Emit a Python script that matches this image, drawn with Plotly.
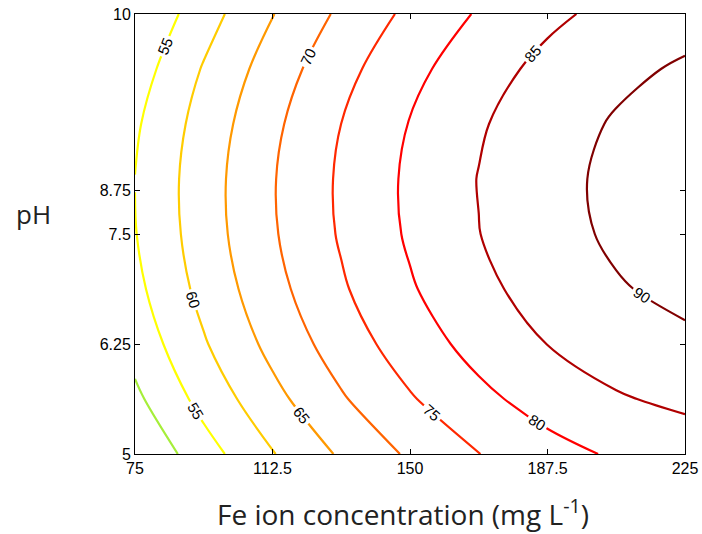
import plotly.graph_objects as go

# Fe ion concentration grid (mg/L)
fe_conc = [75, 93.75, 112.5, 131.25, 150, 168.75, 187.5, 206.25, 225]
# pH grid
ph_vals = [5, 5.625, 6.25, 6.875, 7.5, 8.125, 8.75, 9.375, 10]
# response values (rows = pH, cols = Fe)
removal = [
    [45.20, 52.91, 59.73, 65.68, 70.74, 74.92, 78.22, 80.64, 82.18],
    [48.95, 56.68, 63.52, 69.49, 74.57, 78.77, 82.09, 84.53, 86.08],
    [51.81, 59.55, 66.42, 72.40, 77.50, 81.72, 85.06, 87.51, 89.09],
    [53.76, 61.52, 68.40, 74.41, 79.52, 83.76, 87.12, 89.60, 91.19],
    [54.81, 62.59, 69.49, 75.51, 80.65, 84.91, 88.28, 90.78, 92.39],
    [55.06, 62.76, 69.68, 75.72, 80.87, 85.15, 88.54, 91.06, 92.69],
    [54.31, 62.03, 68.97, 75.02, 80.20, 84.49, 87.91, 90.44, 92.09],
    [52.55, 60.39, 67.35, 73.43, 78.62, 82.93, 86.36, 88.92, 90.58],
    [50.00, 57.86, 64.83, 70.93, 76.14, 80.47, 83.92, 86.49, 88.18],
]

levels = [50, 55, 60, 65, 70, 75, 80, 85, 90]
level_colors = ["#a6ee3a", "#ffff00", "#ffcc00", "#ff9900", "#ff6400",
                "#ff2800", "#ff0000", "#b00000", "#800000"]

x_ticks = [75, 112.5, 150, 187.5, 225]
x_ticktext = ["75", "112.5", "150", "187.5", "225"]
y_ticks = [5, 6.25, 7.5, 8.0, 10]
y_ticktext = ["5", "6.25", "7.5", "8.75", "10"]

lo, hi = levels[0], levels[-1]
colorscale = [[(lv - lo) / (hi - lo), c] for lv, c in zip(levels, level_colors)]

fig = go.Figure()
fig.add_trace(go.Contour(
    x=fe_conc, y=ph_vals, z=removal,
    zauto=False, zmin=lo, zmax=hi,
    colorscale=colorscale, showscale=False,
    contours=dict(coloring="lines", start=lo, end=hi, size=5,
                  showlabels=True,
                  labelfont=dict(family="Liberation Sans", size=15, color="black")),
    line=dict(width=2.2, smoothing=1.0),
    hoverinfo="skip",
))

axis_common = dict(showline=True, linecolor="black", linewidth=1, mirror="ticks",
                   ticks="inside", ticklen=5, tickcolor="black",
                   showgrid=False, zeroline=False, automargin=False,
                   tickfont=dict(family="Liberation Sans", size=16, color="black"))

fig.update_xaxes(range=[75, 225], tickvals=x_ticks, ticktext=x_ticktext, **axis_common)
fig.update_yaxes(range=[5, 10], tickvals=y_ticks, ticktext=y_ticktext, **axis_common)

fig.add_annotation(text="Fe ion concentration (mg L<sup>-1</sup>)", xref="paper", yref="paper",
                   x=0.487, y=-0.134, xanchor="center", yanchor="middle", showarrow=False,
                   font=dict(family="Open Sans", size=28, color="#222222"))
fig.add_annotation(text="pH", xref="paper", yref="paper",
                   x=-0.185, y=0.545, xanchor="center", yanchor="middle", showarrow=False,
                   font=dict(family="Open Sans", size=26, color="#222222"))

fig.update_layout(width=702, height=534, margin=dict(l=135, r=17, t=14, b=80),
                  paper_bgcolor="white", plot_bgcolor="white", showlegend=False)

fig.write_html("out.html")
